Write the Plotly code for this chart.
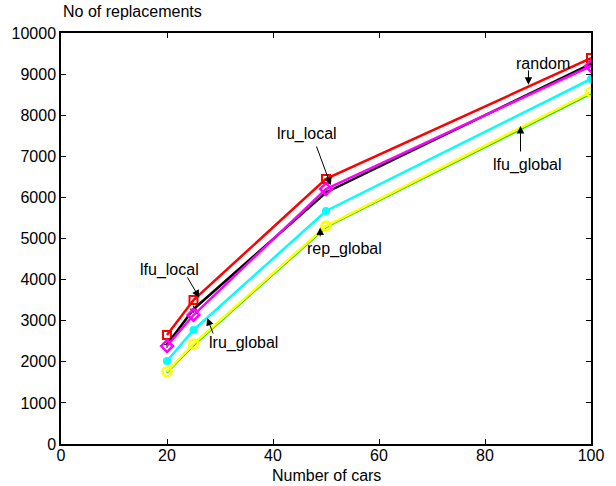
import plotly.graph_objects as go

# Number of cars on the x axis
cars = [20, 25, 50, 100]

# Replacement counts per policy
random_vals = [2650, 3504, 6450, 9390]
lru_local_vals = [2384, 3139, 6204, 9197]
lfu_local_vals = [2420, 3280, 6120, 9250]
lru_global_vals = [2019, 2774, 5669, 8881]
rep_global_vals = [1760, 2433, 5304, 8564]
lfu_global_vals = [1740, 2410, 5280, 8530]

x_ticks = [0, 20, 40, 60, 80, 100]
y_ticks = list(range(0, 10001, 1000))
y_tick_text = [str(v) for v in y_ticks]

FONT = "Liberation Sans, Arial, Helvetica, sans-serif"
FS = 16

fig = go.Figure()

series = [
    (lfu_global_vals, "#00dd00", dict(symbol="circle", size=1)),
    (random_vals, "#ff0000", dict(symbol="square-open", size=8, line=dict(width=2))),
    (lfu_local_vals, "#000000", dict(symbol="cross-thin-open", size=5, line=dict(width=1, color="#000000"))),
    (lru_local_vals, "#ff00ff", dict(symbol="diamond-open", size=9, line=dict(width=2.5))),
    (lru_global_vals, "#00ffff", dict(symbol="circle", size=8)),
    (rep_global_vals, "#ffff00", dict(symbol="circle-open", size=9, line=dict(width=2.5))),
]
for vals, color, marker in series:
    m = dict(color=color)
    m.update(marker)
    if "line" in m and "color" not in m["line"]:
        m["line"]["color"] = color
    fig.add_trace(go.Scatter(
        x=cars, y=vals, mode="lines+markers",
        line=dict(color=color, width=2.5),
        marker=m, showlegend=False, hoverinfo="skip",
    ))

# Labels with arrows: (text, text_x, text_y, tail_x, tail_y, head_x, head_y)
labels = [
    ("random", 91.0, 9270, 88.2, 9124, 88.2, 8740),
    ("lru_local", 46.4, 7550, 48.1, 7275, 50.9, 6300),
    ("lfu_local", 20.5, 4234, 23.7, 4088, 26.1, 3560),
    ("lru_global", 34.4, 2457, 28.8, 2652, 27.6, 3066),
    ("rep_global", 53.4, 4745, 48.9, 5012, 48.9, 5270),
    ("lfu_global", 88.0, 6788, 86.7, 7080, 86.7, 7740),
]
for text, tx, ty, ax, ay, hx, hy in labels:
    fig.add_annotation(x=tx, y=ty, text=text, showarrow=False,
                       font=dict(family=FONT, size=FS, color="#000000"))
    fig.add_annotation(x=hx, y=hy, ax=ax, ay=ay, axref="x", ayref="y",
                       text="", showarrow=True, arrowhead=2, arrowsize=1.5,
                       arrowwidth=1, arrowcolor="#000000", standoff=0,
                       startstandoff=0)

fig.add_annotation(x=0, y=1, xref="paper", yref="paper", xanchor="left",
                   yanchor="bottom", yshift=11, text="No of replacements",
                   showarrow=False, font=dict(family=FONT, size=FS, color="#000000"))
fig.add_annotation(x=0.5, y=0, xref="paper", yref="paper", xanchor="center",
                   yanchor="top", yshift=-21, text="Number of cars",
                   showarrow=False, font=dict(family=FONT, size=FS, color="#000000"))

axis_common = dict(
    showgrid=False, zeroline=False, showline=True, linecolor="#000000",
    linewidth=1.5, mirror="ticks", ticks="inside", ticklen=5,
    tickcolor="#000000", tickfont=dict(family=FONT, size=FS, color="#000000"),
)
fig.update_xaxes(range=[0, 100], tickvals=x_ticks, ticklabelstandoff=-4,
                 **axis_common)
fig.update_yaxes(range=[0, 10000], tickvals=y_ticks, ticktext=y_tick_text,
                 **axis_common)

fig.update_layout(
    width=616, height=486,
    margin=dict(l=59, r=25, t=33, b=42),
    paper_bgcolor="#ffffff", plot_bgcolor="#ffffff",
    font=dict(family=FONT, size=FS, color="#000000"),
)

fig.write_html("out.html")
